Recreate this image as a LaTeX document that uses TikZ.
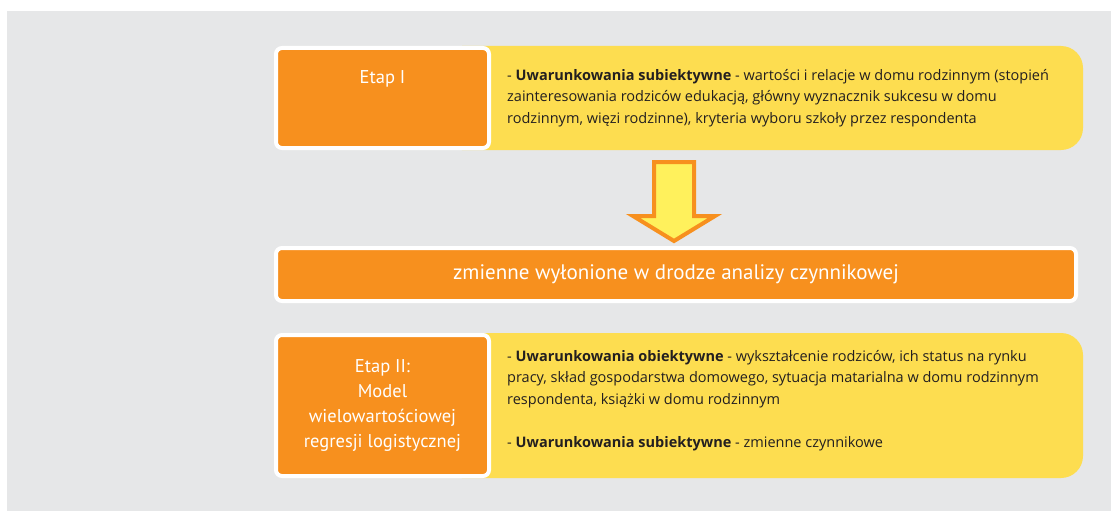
\documentclass[tikz,border=0pt]{standalone}
\usepackage{fontspec}
\setmainfont{PT Sans}
\newfontfamily\bodyfont{Open Sans}
\usepackage{tikz}
\usetikzlibrary{positioning}
\definecolor{etaporange}{HTML}{F7901E}
\definecolor{etapyellow}{HTML}{FDDD50}
\definecolor{etaparrow}{HTML}{FFF15C}
\definecolor{etapgray}{HTML}{E6E7E8}
\definecolor{etaptext}{HTML}{231F20}
\newcommand{\bodysize}{\bodyfont\fontsize{14.5}{21.5}\selectfont}

\begin{document}
\begin{tikzpicture}[
  x=1pt, y=-1pt,
  stagebox/.style={draw=white, line width=4pt, fill=etaporange, rounded corners=6pt,
                   minimum width=213pt, text=white, align=center,
                   font=\fontsize{18.5}{25.3}\selectfont},
  infobox/.style={fill=etapyellow, rounded corners=22pt, minimum width=643pt},
  infotext/.style={inner sep=0pt, align=left, text=etaptext, font=\bodysize},
  barbox/.style={draw=white, line width=4pt, fill=etaporange, rounded corners=6pt,
                 minimum width=800pt, minimum height=53pt, text=white,
                 font=\fontsize{21}{25}\selectfont},
  bigarrow/.style={draw=etaporange, line width=4pt, fill=etaparrow, line join=miter}
]
\fill[white] (0,0) rectangle (1111,511);
\useasboundingbox (0,0) rectangle (1111,511);
\fill[etapgray] (7,11) rectangle (1111,511);

% stage one
\node[infobox, minimum height=104pt] (boxI) at (761.5,98) {};
\node[stagebox, minimum height=100pt, text height=14pt, text depth=42pt] (etapI) at (382.5,98) {Etap I};
\node[infotext, right=16pt of etapI] (txtI) {%
  - \textbf{Uwarunkowania subiektywne} - wartości i relacje w domu rodzinnym (stopień\\
  zainteresowania rodziców edukacją, główny wyznacznik sukcesu w domu\\
  rodzinnym, więzi rodzinne), kryteria wyboru szkoły przez respondenta};

% factor analysis
\node[barbox] (factors) at (676,274.5) {zmienne wyłonione w drodze analizy czynnikowej};
\draw[bigarrow] (654,162) -- (694,162) -- (694,216) -- (715,216) -- (674,241)
  -- (633,216) -- (654,216) -- cycle;

% stage two
\node[infobox, minimum height=145pt] (boxII) at (761.5,405.5) {};
\node[stagebox, minimum height=141pt] (etapII) at (382.5,405.5)
  {Etap II:\\Model\\wielowartościowej\\regresji logistycznej};
\node[infotext, right=16pt of etapII, yshift=5pt] (txtII) {%
  - \textbf{Uwarunkowania obiektywne} - wykształcenie rodziców, ich status na rynku\\
  pracy, skład gospodarstwa domowego, sytuacja matarialna w domu rodzinnym\\
  respondenta, książki w domu rodzinnym\\[21.5pt]
  - \textbf{Uwarunkowania subiektywne} - zmienne czynnikowe};
\end{tikzpicture}
\end{document}
